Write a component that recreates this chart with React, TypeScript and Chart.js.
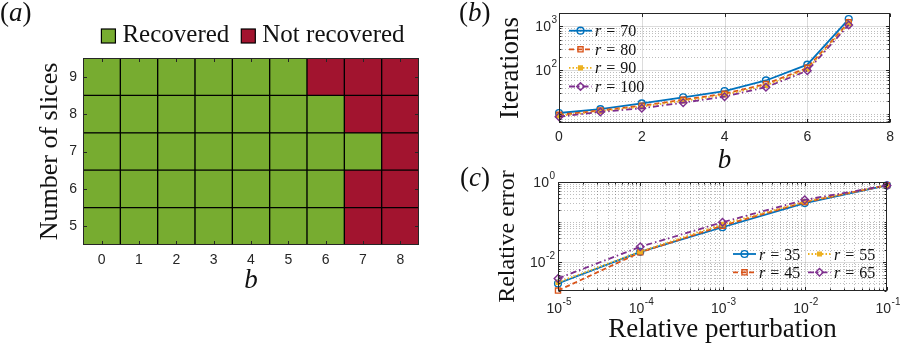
import React, { useEffect, useRef } from 'react';
import { Chart, registerables } from 'chart.js';
Chart.register(...registerables);

const SERIF = '"Liberation Serif", "Times New Roman", serif';
const SANS = '"Liberation Sans", Arial, Helvetica, sans-serif';
const INK = '#262626';
const TITLE_INK = '#111111';
const GREEN = '#77AC30';
const RED = '#A2142F';
const BLUE = '#0072BD';
const ORANGE = '#D95319';
const YELLOW = '#EDB120';
const PURPLE = '#7E2F8E';

// ---------- Panel (a): recovery map ----------
const bCategories = ['0', '1', '2', '3', '4', '5', '6', '7', '8'];
const sliceCounts = [5, 6, 7, 8, 9];
const recoveredSlices5 = [1, 1, 1, 1, 1, 1, 1, 0, 0];
const recoveredSlices6 = [1, 1, 1, 1, 1, 1, 1, 0, 0];
const recoveredSlices7 = [1, 1, 1, 1, 1, 1, 1, 1, 0];
const recoveredSlices8 = [1, 1, 1, 1, 1, 1, 1, 0, 0];
const recoveredSlices9 = [1, 1, 1, 1, 1, 1, 0, 0, 0];
const recoveryRows = [recoveredSlices5, recoveredSlices6, recoveredSlices7, recoveredSlices8, recoveredSlices9];
const recoveryLegend = ['Recovered', 'Not recovered'];

// ---------- Panel (b): iterations vs b ----------
const bValues = [0, 1, 2, 3, 4, 5, 6, 7];
const iterationsR70 = [10.8, 13.2, 17.8, 24.5, 34, 59, 135, 1460];
const iterationsR80 = [9.8, 12.3, 15.8, 21.5, 29.5, 49, 114, 1230];
const iterationsR90 = [9.3, 11.9, 15.0, 20.3, 27.8, 45.5, 106, 1150];
const iterationsR100 = [8.9, 11.4, 13.8, 18.5, 25.3, 41.5, 98, 1070];
const iterationRanks = ['70', '80', '90', '100'];
const bTickValues = [0, 2, 4, 6, 8];
const iterTickValues = [100, 1000];
const iterTickExponents = ['2', '3'];

// ---------- Panel (c): relative error vs perturbation ----------
const perturbations = [1e-5, 1e-4, 1e-3, 1e-2, 1e-1];
const errorR35 = [0.003, 0.0184, 0.075, 0.3, 0.82];
const errorR45 = [0.002, 0.0178, 0.082, 0.316, 0.83];
const errorR55 = [0.0032, 0.0186, 0.089, 0.325, 0.83];
const errorR65 = [0.004, 0.0245, 0.1, 0.36, 0.82];
const errorRanks = ['35', '45', '55', '65'];
const pertTickValues = [1e-5, 1e-4, 1e-3, 1e-2, 1e-1];
const pertTickExponents = ['-5', '-4', '-3', '-2', '-1'];
const errTickValues = [1e-2, 1];
const errTickExponents = ['-2', '0'];

const seriesStyles = [
  { color: BLUE, dash: [] as number[], point: 'circle', radius: 3.4, fill: 'rgba(255,255,255,0)' },
  { color: ORANGE, dash: [5, 3], point: 'rect', radius: 3.6, fill: 'rgba(255,255,255,0)' },
  { color: YELLOW, dash: [1.5, 2], point: 'rect', radius: 2.6, fill: YELLOW },
  { color: PURPLE, dash: [6, 3, 1.5, 3], point: 'rectRot', radius: 3.8, fill: 'rgba(255,255,255,0)' },
];

function lineDataset(xs: number[], ys: number[], i: number, label: string) {
  const s = seriesStyles[i];
  return {
    label,
    data: xs.map((x, k) => ({ x, y: ys[k] })),
    borderColor: s.color,
    backgroundColor: s.color,
    borderWidth: 1.8,
    borderDash: s.dash,
    pointStyle: s.point,
    pointRadius: s.radius,
    pointBorderWidth: 1.4,
    pointBorderColor: s.color,
    pointBackgroundColor: s.fill,
    tension: 0,
    clip: false,
    order: 4 - i,
  };
}

function logMinor(min: number, max: number, exclude: number[]) {
  const out: number[] = [];
  for (let e = Math.floor(Math.log10(min)); e <= Math.ceil(Math.log10(max)); e++) {
    for (let k = 1; k <= 9; k++) {
      const v = k * Math.pow(10, e);
      if (v >= min * 0.999 && v <= max * 1.001 && !exclude.some((m) => Math.abs(m - v) / v < 1e-6)) out.push(v);
    }
  }
  return out;
}

function gridPlugin(spec: { xMajor: number[]; xMinor: number[]; yMajor: number[]; yMinor: number[] }) {
  return {
    id: 'mgrid',
    beforeDatasetsDraw(chart: any) {
      const { ctx, chartArea: a, scales } = chart;
      const x = scales.x, y = scales.y;
      ctx.save();
      ctx.beginPath();
      ctx.rect(a.left, a.top, a.right - a.left, a.bottom - a.top);
      ctx.clip();
      ctx.lineWidth = 1;
      const vline = (v: number) => {
        const p = Math.round(x.getPixelForValue(v)) + 0.5;
        ctx.beginPath(); ctx.moveTo(p, a.top); ctx.lineTo(p, a.bottom); ctx.stroke();
      };
      const hline = (v: number) => {
        const p = Math.round(y.getPixelForValue(v)) + 0.5;
        ctx.beginPath(); ctx.moveTo(a.left, p); ctx.lineTo(a.right, p); ctx.stroke();
      };
      ctx.strokeStyle = 'rgba(38,38,38,0.3)';
      ctx.setLineDash([1, 2]);
      spec.xMinor.forEach(vline);
      spec.yMinor.forEach(hline);
      ctx.setLineDash([]);
      ctx.strokeStyle = 'rgba(38,38,38,0.16)';
      spec.xMajor.forEach(vline);
      spec.yMajor.forEach(hline);
      ctx.restore();
    },
  };
}

function framePlugin(spec: { xMajor: number[]; xMinor: number[]; yMajor: number[]; yMinor: number[] }) {
  return {
    id: 'mframe',
    afterDatasetsDraw(chart: any) {
      const { ctx, chartArea: a, scales } = chart;
      const x = scales.x, y = scales.y;
      ctx.save();
      ctx.strokeStyle = INK;
      ctx.lineWidth = 1;
      ctx.setLineDash([]);
      const L = Math.round(a.left) + 0.5, R = Math.round(a.right) - 0.5;
      const T = Math.round(a.top) + 0.5, B = Math.round(a.bottom) - 0.5;
      const xt = (v: number, len: number) => {
        const p = Math.round(x.getPixelForValue(v)) + 0.5;
        ctx.beginPath(); ctx.moveTo(p, B); ctx.lineTo(p, B - len); ctx.moveTo(p, T); ctx.lineTo(p, T + len); ctx.stroke();
      };
      const yt = (v: number, len: number) => {
        const p = Math.round(y.getPixelForValue(v)) + 0.5;
        ctx.beginPath(); ctx.moveTo(L, p); ctx.lineTo(L + len, p); ctx.moveTo(R, p); ctx.lineTo(R - len, p); ctx.stroke();
      };
      spec.xMajor.forEach((v) => xt(v, 3.5));
      spec.xMinor.forEach((v) => xt(v, 2));
      spec.yMajor.forEach((v) => yt(v, 3.5));
      spec.yMinor.forEach((v) => yt(v, 2));
      ctx.strokeRect(L, T, R - L, B - T);
      ctx.restore();
    },
  };
}

function drawPow(ctx: CanvasRenderingContext2D, exp: string, x: number, y: number, align: 'center' | 'right') {
  ctx.save();
  ctx.fillStyle = INK;
  ctx.textBaseline = 'middle';
  ctx.textAlign = 'left';
  ctx.font = `14px ${SANS}`;
  const wb = ctx.measureText('10').width;
  ctx.font = `10px ${SANS}`;
  const we = ctx.measureText(exp).width;
  const total = wb + we + 0.5;
  const x0 = align === 'center' ? x - total / 2 : x - total;
  ctx.font = `14px ${SANS}`;
  ctx.fillText('10', x0, y);
  ctx.font = `10px ${SANS}`;
  ctx.fillText(exp, x0 + wb + 0.5, y - 7);
  ctx.restore();
}

function powLabelsPlugin(spec: {
  x?: { values: number[]; exps: string[]; offset: number };
  y?: { values: number[]; exps: string[]; gap: number; dy: number };
}) {
  return {
    id: 'mpow',
    afterDraw(chart: any) {
      const { ctx, chartArea: a, scales } = chart;
      if (spec.x) {
        spec.x.values.forEach((v, i) => drawPow(ctx, spec.x!.exps[i], scales.x.getPixelForValue(v) + 1, a.bottom + spec.x!.offset, 'center'));
      }
      if (spec.y) {
        spec.y.values.forEach((v, i) => drawPow(ctx, spec.y!.exps[i], a.left - spec.y!.gap, scales.y.getPixelForValue(v) + spec.y!.dy, 'right'));
      }
    },
  };
}

function drawMarker(ctx: CanvasRenderingContext2D, style: string, x: number, y: number, r: number, color: string, fill: string) {
  ctx.beginPath();
  if (style === 'circle') ctx.arc(x, y, r, 0, Math.PI * 2);
  else if (style === 'rect') {
    const s = r * Math.SQRT1_2;
    ctx.rect(x - s, y - s, 2 * s, 2 * s);
  } else {
    ctx.moveTo(x, y - r); ctx.lineTo(x + r, y); ctx.lineTo(x, y + r); ctx.lineTo(x - r, y); ctx.closePath();
  }
  ctx.fillStyle = fill;
  ctx.fill();
  ctx.strokeStyle = color;
  ctx.lineWidth = 1.4;
  ctx.setLineDash([]);
  ctx.stroke();
}

function lineLegendPlugin(ranks: string[], pos: { dx: number; dy: number }[]) {
  return {
    id: 'mlegend',
    afterDraw(chart: any) {
      const { ctx, chartArea: a } = chart;
      ctx.save();
      ranks.forEach((rank, i) => {
        const s = seriesStyles[i];
        const x0 = a.left + pos[i].dx;
        const y0 = a.top + pos[i].dy;
        ctx.strokeStyle = s.color;
        ctx.lineWidth = 1.8;
        ctx.setLineDash(s.dash);
        ctx.beginPath(); ctx.moveTo(x0, y0); ctx.lineTo(x0 + 23, y0); ctx.stroke();
        drawMarker(ctx, s.point, x0 + 11.5, y0, s.radius, s.color, s.fill);
        ctx.fillStyle = TITLE_INK;
        ctx.textBaseline = 'alphabetic';
        ctx.textAlign = 'left';
        let tx = x0 + 26;
        const by = y0 + 5.5;
        ctx.font = `italic 16px ${SERIF}`;
        ctx.fillText('r', tx, by);
        tx += ctx.measureText('r').width + 5;
        ctx.font = `16px ${SERIF}`;
        ctx.fillText('=', tx, by);
        tx += ctx.measureText('=').width + 5;
        ctx.fillText(rank, tx, by);
      });
      ctx.restore();
    },
  };
}

const recoveryLegendPlugin = {
  id: 'recLegend',
  afterDraw(chart: any) {
    const { ctx, chartArea: a } = chart;
    ctx.save();
    ctx.font = `25px ${SERIF}`;
    const w1 = ctx.measureText(recoveryLegend[0]).width;
    const w2 = ctx.measureText(recoveryLegend[1]).width;
    const box = 14, g1 = 7, g2 = 12;
    const total = box + g1 + w1 + g2 + box + g1 + w2;
    let x = (a.left + a.right) / 2 + 2 - total / 2;
    const by = 41.5;
    const drawBox = (c: string) => {
      ctx.fillStyle = c;
      ctx.fillRect(x, 29, box, box);
      ctx.strokeStyle = '#000';
      ctx.lineWidth = 1.2;
      ctx.strokeRect(x, 29, box, box);
    };
    ctx.textBaseline = 'alphabetic';
    ctx.textAlign = 'left';
    drawBox(GREEN);
    x += box + g1;
    ctx.fillStyle = TITLE_INK;
    ctx.fillText(recoveryLegend[0], x, by);
    x += w1 + g2;
    drawBox(RED);
    x += box + g1;
    ctx.fillStyle = TITLE_INK;
    ctx.fillText(recoveryLegend[1], x, by);
    ctx.restore();
  },
};

const titleFont = (size: number, italic = false) => ({ family: SERIF, size, style: italic ? ('italic' as const) : ('normal' as const), lineHeight: 1.2 });
const noGrid = { display: false, drawTicks: false };
const noBorder = { display: false };

function makeA(canvas: HTMLCanvasElement) {
  return new Chart(canvas, {
    type: 'bar',
    data: {
      labels: bCategories,
      datasets: sliceCounts.map((n, r) => ({
        label: `${n}`,
        data: recoveryRows[r].map(() => [n - 0.5, n + 0.5]),
        backgroundColor: recoveryRows[r].map((v) => (v ? GREEN : RED)),
        borderColor: '#000',
        borderWidth: 1,
        borderSkipped: false,
        barPercentage: 1,
        categoryPercentage: 1,
        grouped: false,
      })),
    } as any,
    options: {
      responsive: false,
      animation: false,
      events: [],
      layout: { padding: { left: 0, right: 31, top: 58, bottom: 0 } },
      plugins: { legend: { display: false }, tooltip: { enabled: false } },
      scales: {
        x: {
          type: 'category',
          offset: true,
          grid: noGrid,
          border: noBorder,
          ticks: { font: { family: SANS, size: 14 }, color: INK, padding: 7, maxRotation: 0, autoSkip: false },
          afterFit: (s: any) => { s.height = 100; },
          title: { display: true, text: 'b', font: titleFont(27, true), color: TITLE_INK, padding: { top: 0, bottom: 48 } },
        },
        y: {
          type: 'linear',
          min: 4.5,
          max: 9.5,
          afterBuildTicks: (s: any) => { s.ticks = sliceCounts.map((v) => ({ value: v })); },
          grid: noGrid,
          border: noBorder,
          ticks: { font: { family: SANS, size: 14 }, color: INK, padding: 6 },
          afterFit: (s: any) => { s.width = 83; },
          title: { display: true, text: 'Number of slices', font: titleFont(26), color: TITLE_INK, padding: { top: 35, bottom: 0 } },
        },
      },
    } as any,
    plugins: [
      framePlugin({ xMajor: bCategories.map((_, i) => i), xMinor: [], yMajor: sliceCounts, yMinor: [] }),
      recoveryLegendPlugin,
    ],
  });
}

function makeB(canvas: HTMLCanvasElement) {
  const yMin = 6.4, yMax = 2000;
  const yMinor = logMinor(yMin, yMax, iterTickValues);
  return new Chart(canvas, {
    type: 'line',
    data: {
      datasets: [
        lineDataset(bValues, iterationsR70, 0, 'r = 70'),
        lineDataset(bValues, iterationsR80, 1, 'r = 80'),
        lineDataset(bValues, iterationsR90, 2, 'r = 90'),
        lineDataset(bValues, iterationsR100, 3, 'r = 100'),
      ],
    } as any,
    options: {
      responsive: false,
      animation: false,
      events: [],
      layout: { padding: { left: 0, right: 9, top: 13, bottom: 0 } },
      plugins: { legend: { display: false }, tooltip: { enabled: false } },
      scales: {
        x: {
          type: 'linear',
          min: 0,
          max: 8,
          afterBuildTicks: (s: any) => { s.ticks = bTickValues.map((v) => ({ value: v })); },
          afterFit: (s: any) => { s.height = 57; },
          grid: noGrid,
          border: noBorder,
          ticks: { font: { family: SANS, size: 14 }, color: INK, padding: 6, maxRotation: 0, autoSkip: false },
          title: { display: true, text: 'b', font: titleFont(27, true), color: TITLE_INK, padding: { top: 0, bottom: 3 } },
        },
        y: {
          type: 'logarithmic',
          min: yMin,
          max: yMax,
          afterBuildTicks: (s: any) => { s.ticks = iterTickValues.map((v) => ({ value: v })); },
          afterFit: (s: any) => { s.width = 109; },
          grid: noGrid,
          border: noBorder,
          ticks: { display: false },
          title: { display: true, text: 'Iterations', font: titleFont(27), color: TITLE_INK, padding: { top: 45, bottom: 0 } },
        },
      },
    } as any,
    plugins: [
      gridPlugin({ xMajor: [2, 4, 6], xMinor: [], yMajor: iterTickValues, yMinor }),
      framePlugin({ xMajor: bTickValues, xMinor: [], yMajor: iterTickValues, yMinor }),
      powLabelsPlugin({ y: { values: iterTickValues, exps: iterTickExponents, gap: 2, dy: 1 } }),
      lineLegendPlugin(iterationRanks, iterationRanks.map((_, i) => ({ dx: 10, dy: 17.7 + i * 18.6 }))),
    ],
  });
}

function makeC(canvas: HTMLCanvasElement) {
  const yMin = 0.00195, yMax = 1;
  const xMinor = logMinor(1e-5, 1e-1, pertTickValues);
  const yMinor = logMinor(yMin, yMax, errTickValues);
  return new Chart(canvas, {
    type: 'line',
    data: {
      datasets: [
        lineDataset(perturbations, errorR35, 0, 'r = 35'),
        lineDataset(perturbations, errorR45, 1, 'r = 45'),
        lineDataset(perturbations, errorR55, 2, 'r = 55'),
        lineDataset(perturbations, errorR65, 3, 'r = 65'),
      ],
    } as any,
    options: {
      responsive: false,
      animation: false,
      events: [],
      layout: { padding: { left: 0, right: 13, top: 22, bottom: 0 } },
      plugins: { legend: { display: false }, tooltip: { enabled: false } },
      scales: {
        x: {
          type: 'logarithmic',
          min: 1e-5,
          max: 1e-1,
          afterBuildTicks: (s: any) => { s.ticks = pertTickValues.map((v) => ({ value: v })); },
          afterFit: (s: any) => { s.height = 54; },
          grid: noGrid,
          border: noBorder,
          ticks: { display: false },
          title: { display: true, text: 'Relative perturbation', font: { ...titleFont(27), lineHeight: 1 }, color: TITLE_INK, padding: { top: 0, bottom: 2 } },
        },
        y: {
          type: 'logarithmic',
          min: yMin,
          max: yMax,
          afterBuildTicks: (s: any) => { s.ticks = errTickValues.map((v) => ({ value: v })); },
          afterFit: (s: any) => { s.width = 108; },
          grid: noGrid,
          border: noBorder,
          ticks: { display: false },
          title: { display: true, text: 'Relative error', font: titleFont(24), color: TITLE_INK, padding: { top: 43, bottom: 0 } },
        },
      },
    } as any,
    plugins: [
      gridPlugin({ xMajor: pertTickValues, xMinor, yMajor: errTickValues, yMinor }),
      framePlugin({ xMajor: pertTickValues, xMinor, yMajor: errTickValues, yMinor }),
      powLabelsPlugin({
        x: { values: pertTickValues, exps: pertTickExponents, offset: 18 },
        y: { values: errTickValues, exps: errTickExponents, gap: 3, dy: 1 },
      }),
      lineLegendPlugin(errorRanks, [
        { dx: 175, dy: 72 },
        { dx: 175, dy: 90.3 },
        { dx: 250, dy: 72 },
        { dx: 250, dy: 90.3 },
      ]),
    ],
  });
}

const panelLabel = (left: number, top: number): React.CSSProperties => ({
  position: 'absolute',
  left,
  top,
  font: `27px ${SERIF}`,
  lineHeight: '27px',
  color: TITLE_INK,
  whiteSpace: 'nowrap',
});

export default function App() {
  const refA = useRef<HTMLCanvasElement>(null);
  const refB = useRef<HTMLCanvasElement>(null);
  const refC = useRef<HTMLCanvasElement>(null);

  useEffect(() => {
    const charts = [makeA(refA.current!), makeB(refB.current!), makeC(refC.current!)];
    return () => charts.forEach((c) => c.destroy());
  }, []);

  return (
    <div style={{ position: 'fixed', left: 0, top: 0, width: 900, height: 345, background: '#fff', overflow: 'hidden' }}>
      <canvas ref={refA} width={450} height={345} style={{ position: 'absolute', left: 0, top: 0, width: 450, height: 345 }} />
      <canvas ref={refB} width={450} height={180} style={{ position: 'absolute', left: 450, top: 0, width: 450, height: 180 }} />
      <canvas ref={refC} width={450} height={185} style={{ position: 'absolute', left: 450, top: 160, width: 450, height: 185 }} />
      <span style={panelLabel(0, -1)}>(<i>a</i>)</span>
      <span style={panelLabel(459, -1)}>(<i>b</i>)</span>
      <span style={panelLabel(460, 164)}>(<i>c</i>)</span>
    </div>
  );
}
